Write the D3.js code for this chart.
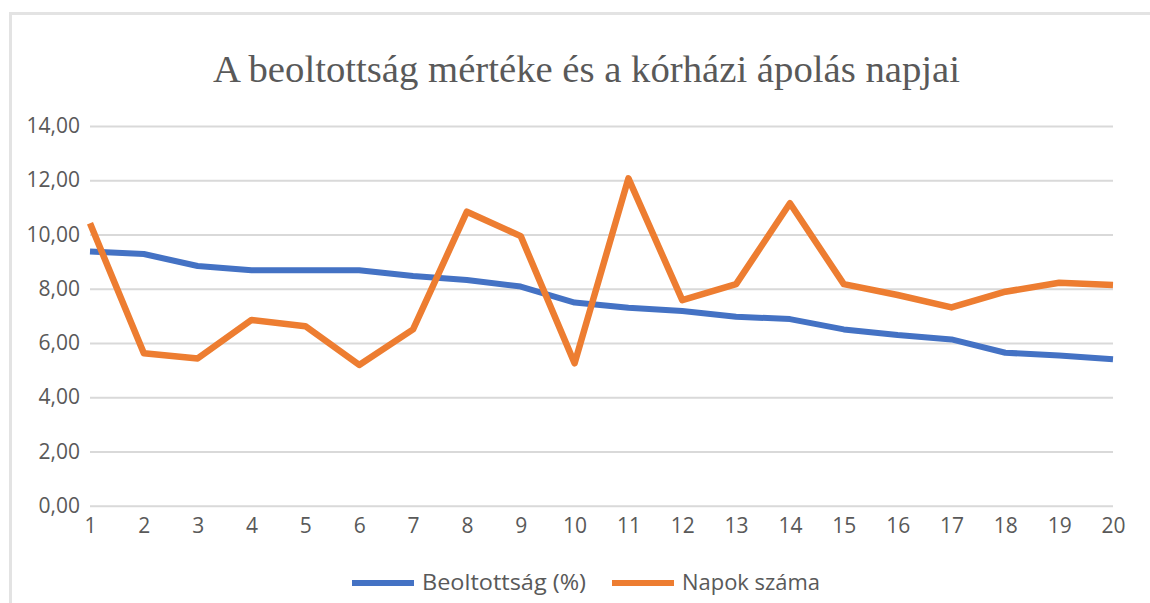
<!DOCTYPE html>
<html>
<head>
<meta charset="utf-8">
<script src="https://cdn.jsdelivr.net/npm/d3@7"></script>
<style>
  body { margin: 0; background: #fff; }
  svg { display: block; }
</style>
</head>
<body>
<svg width="1150" height="603"></svg>
<script>
var days = [1, 2, 3, 4, 5, 6, 7, 8, 9, 10, 11, 12, 13, 14, 15, 16, 17, 18, 19, 20];
var beoltottsag = [9.37, 9.28, 8.84, 8.68, 8.68, 8.68, 8.47, 8.32, 8.08, 7.49,
                   7.30, 7.18, 6.97, 6.88, 6.50, 6.29, 6.13, 5.64, 5.54, 5.40];
var napok = [10.41, 5.62, 5.43, 6.85, 6.62, 5.19, 6.50, 10.84, 9.94, 5.25,
             12.07, 7.58, 8.17, 11.15, 8.17, 7.77, 7.31, 7.89, 8.22, 8.14];
var yTicks = [0, 2, 4, 6, 8, 10, 12, 14];
var seriesNames = ['Beoltottság (%)', 'Napok száma'];
var colors = ['#4472c4', '#ed7d31'];

var svg = d3.select('svg');

// chart area frame (only top and left edge are visible in the crop)
svg.append('path')
    .attr('d', 'M10.5,603 V13.5 H1150')
    .attr('fill', 'none')
    .attr('stroke', '#e3e3e3')
    .attr('stroke-width', 3);

svg.append('text')
    .text('A beoltottság mértéke és a kórházi ápolás napjai')
    .attr('x', 213)
    .attr('y', 82)
    .attr('font-family', 'Liberation Serif, serif')
    .attr('font-size', 38)
    .attr('textLength', 747)
    .attr('lengthAdjust', 'spacingAndGlyphs')
    .attr('fill', '#595959');

var x = d3.scaleLinear().domain([1, 20]).range([90, 1113]);
var y = d3.scaleLinear().domain([0, 14]).range([505.7, 126]);

// gridlines
var yAxis = d3.axisLeft(y)
    .tickValues(yTicks)
    .tickSize(-(1113 - 90))
    .tickFormat(function(d) { return d3.format('.2f')(d).replace('.', ','); });

var gy = svg.append('g')
    .attr('transform', 'translate(90,0)')
    .call(yAxis);
gy.select('.domain').remove();
gy.selectAll('line').attr('stroke', '#d9d9d9').attr('stroke-width', 2);
gy.selectAll('text')
    .attr('x', -10)
    .attr('font-family', 'Open Sans, sans-serif')
    .attr('font-size', 21)
    .attr('fill', '#595959');

var xAxis = d3.axisBottom(x)
    .tickValues(days)
    .tickSize(0)
    .tickPadding(12)
    .tickFormat(d3.format('d'));

var gx = svg.append('g')
    .attr('transform', 'translate(0,505.7)')
    .call(xAxis);
gx.select('.domain').remove();
gx.selectAll('text')
    .attr('font-family', 'Open Sans, sans-serif')
    .attr('font-size', 21)
    .attr('fill', '#595959');

var line = d3.line()
    .x(function(d, i) { return x(days[i]); })
    .y(function(d) { return y(d); });

svg.append('path')
    .datum(beoltottsag)
    .attr('d', line)
    .attr('fill', 'none')
    .attr('stroke', colors[0])
    .attr('stroke-width', 6)
    .attr('stroke-linejoin', 'round');

svg.append('path')
    .datum(napok)
    .attr('d', line)
    .attr('fill', 'none')
    .attr('stroke', colors[1])
    .attr('stroke-width', 6.5)
    .attr('stroke-linejoin', 'round');

// legend
var legendPos = [352, 612];
var legendText = [164, 138];
var legend = svg.append('g').selectAll('g')
    .data(seriesNames)
    .enter().append('g')
    .attr('transform', function(d, i) { return 'translate(' + legendPos[i] + ',583)'; });

legend.append('line')
    .attr('x1', 0).attr('x2', 62)
    .attr('stroke', function(d, i) { return colors[i]; })
    .attr('stroke-width', 6);

legend.append('text')
    .text(function(d) { return d; })
    .attr('x', 70)
    .attr('dy', '0.35em')
    .attr('textLength', function(d, i) { return legendText[i]; })
    .attr('lengthAdjust', 'spacingAndGlyphs')
    .attr('font-family', 'Open Sans, sans-serif')
    .attr('font-size', 21)
    .attr('fill', '#595959');
</script>
</body>
</html>
